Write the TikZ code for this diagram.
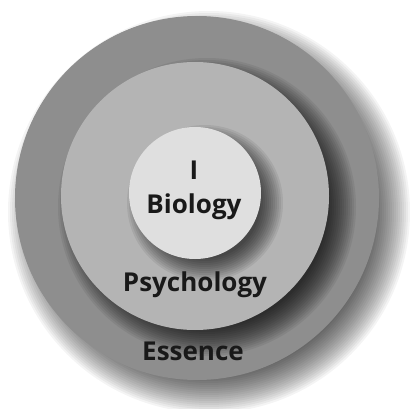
\documentclass[tikz,border=0pt]{standalone}
\usepackage{fontspec}
\setmainfont{Open Sans}
\usetikzlibrary{positioning}

\definecolor{ringout}{HTML}{8E8E8E}
\definecolor{ringmid}{HTML}{B4B4B4}
\definecolor{ringin}{HTML}{DFDFDF}

\begin{document}
\begin{tikzpicture}[
    x=1pt, y=-1pt,
    disk/.style={circle, inner sep=0pt, draw=none},
    lbl/.style={font=\fontsize{26}{30}\selectfont\bfseries, text=black!90, inner sep=0pt},
]
\useasboundingbox[fill=white] (0,0) rectangle (420,409);

% Schatten aussen
\foreach \k in {0,...,19}
    \fill[black, opacity=0.045] (209,212) circle[radius={(201-2*\k)*1pt}];
\node[disk, fill=ringout, minimum size=364pt] (essence) at (197,198) {};

% Schatten mitte
\foreach \k in {0,...,14}
    \fill[black, opacity=0.065] (207,207) circle[radius={(149-2*\k)*1pt}];
\node[disk, fill=ringmid, minimum size=268pt] (psyche) at (195,196) {};

% Schatten innen
\foreach \k in {0,...,11}
    \fill[black, opacity=0.07] (205,203) circle[radius={(78-2*\k)*1pt}];
\node[disk, fill=ringin, minimum size=132pt] (bio) at (195,193) {};

% Beschriftung
\node[lbl] (lblI)   at (194,170) {I};
\node[lbl] (lblBio) at (194,207) {Biology};
\node[lbl] (lblPsy) at (195,285) {Psychology};
\node[lbl] (lblEss) at (193,351) {Essence};

\end{tikzpicture}
\end{document}
